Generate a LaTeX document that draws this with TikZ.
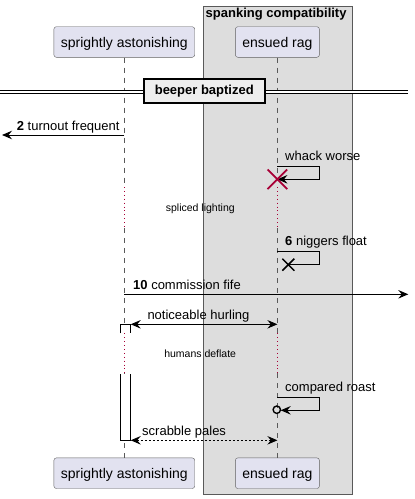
\documentclass[tikz,border=0pt]{standalone}
\usepackage{fontspec}
\setmainfont{Liberation Sans}
\usetikzlibrary{arrows.meta}
\definecolor{partfill}{HTML}{E2E2F0}
\definecolor{grpfill}{HTML}{DDDDDD}
\definecolor{divfill}{HTML}{EEEEEE}
\definecolor{deadred}{HTML}{A80036}
\newcommand\fsz[1]{\fontsize{#1}{#1}\selectfont}
\tikzset{
  umltip/.tip={Stealth[length=10pt,width=8.5pt,inset=3.5pt]},
  part/.style={draw=gray!75!black,fill=partfill,rounded corners=2.5pt,inner xsep=7pt,minimum height=30.6pt,text height=13pt,text depth=1.6pt,font=\fsz{14}},
  grptitle/.style={anchor=base west,inner sep=0pt,font=\bfseries\fsz{13}},
  divbox/.style={draw,line width=2pt,fill=divfill,minimum width=121.3pt,minimum height=24pt,inner sep=0pt,font=\bfseries\fsz{13}},
  life/.style={gray!70!black,dash pattern=on 5pt off 5pt},
  pause/.style={deadred,line width=0.9pt,dash pattern=on 0.9pt off 3pt},
  msg/.style={line width=0.9pt,-umltip},
  both/.style={line width=0.9pt,umltip-umltip},
  lbl/.style={anchor=base west,inner sep=0pt,font=\fsz{13}},
  delaytxt/.style={anchor=base,inner sep=0pt,font=\fsz{10.5}},
  actbar/.style={draw=black,fill=white,line width=0.9pt}
}
\begin{document}
\begin{tikzpicture}[x=1pt,y=-1pt]
  \useasboundingbox (0,0) rectangle (415,499);
  \draw[gray!70!black,fill=grpfill] (203.3,6) rectangle (352.3,494);
  \node[grptitle] (grp) at (205.5,17.7) {spanking compatibility};
  \node[part] (sa) at (124.3,42) {sprightly astonishing}; \node[part] (er) at (277.4,42) {ensued rag};
  \node[part] (saend) at (124.3,473.2) {sprightly astonishing}; \node[part] (erend) at (277.4,473.2) {ensued rag};
  \foreach \n/\y in {pa/187,pb/228,pc/333.3,pd/373.3} {\coordinate (\n) at (0,\y);}
  \draw[life] (sa) -- (sa |- pa) (sa |- pb) -- (sa |- pc) (sa |- pd) -- (saend);
  \draw[life] (er) -- (er |- 0,179.3) (er |- pb) -- (er |- pc) (er |- pd) -- (erend);
  \draw[pause] (sa |- pa) -- (sa |- pb) (sa |- pc) -- (sa |- pd) (er |- pa) -- (er |- pb) (er |- pc) -- (er |- pd);
  \draw[double=white,double distance=2.3pt,line width=1pt] (0,92.3) -- (408.3,92.3);
  \node[divbox] (div) at (204.3,91.1) {beeper baptized};
  \coordinate (m2s) at (sa |- 0,135); \coordinate (m2e) at (2,135);
  \draw[msg] (m2s) -- (m2e); \node[lbl] (l2) at (16.7,130.7) {\textbf{2} turnout frequent};
  \coordinate (w1) at (er |- 0,166.3); \coordinate (w2) at (er |- 0,179.3);
  \draw[msg] (w1) -- ++(42,0) |- (w2); \node[lbl] (lw) at (285,160) {whack worse};
  \draw[deadred,line width=1.8pt] (w2) ++(-9.8,-9.8) -- ++(19.6,19.6) (w2) ++(-9.8,9.8) -- ++(19.6,-19.6);
  \node[delaytxt] (d1) at (200.3,211.7) {spliced lighting};
  \coordinate (n1) at (er |- 0,251.7); \coordinate (n2) at (288.3,264.7);
  \draw[line width=0.9pt] (n1) -- ++(42,0) |- (n2); \node[lbl] (ln) at (285,245) {\textbf{6} niggers float};
  \draw[line width=1.5pt] (n2) ++(-6,-6) -- ++(12,12) (n2) ++(-6,6) -- ++(12,-12);
  \coordinate (f1) at (sa |- 0,294.3); \coordinate (f2) at (408.3,294.3);
  \draw[msg] (f1) -- (f2); \node[lbl] (lf) at (133,289.3) {\textbf{10} commission fife};
  \draw[actbar] (120.3,333.3) |- (130.7,324.3) -- (130.7,333.3);
  \draw[actbar] (120.3,374) |- (130.7,440.3) -- (130.7,374);
  \coordinate (h1) at (130.7,324.3); \coordinate (h2) at (er |- 0,324.3);
  \draw[both] (h1) -- (h2); \node[lbl] (lh) at (147.3,319.3) {noticeable hurling};
  \node[delaytxt] (d2) at (200.2,357.7) {humans deflate};
  \coordinate (c1) at (er |- 0,397.3); \coordinate (c2) at (280.7,410.3); \coordinate (co) at (276.8,409.7);
  \draw[msg] (c1) -- ++(42,0) |- (c2); \node[lbl] (lc) at (285,391.3) {compared roast};
  \draw[line width=1.4pt] (co) circle[radius=3.7pt];
  \coordinate (s1) at (130.7,440.3); \coordinate (s2) at (er |- 0,440.3);
  \draw[both,dash pattern=on 2pt off 2pt] (s1) -- (s2); \node[lbl] (ls) at (142,435.3) {scrabble pales};
\end{tikzpicture}
\end{document}
